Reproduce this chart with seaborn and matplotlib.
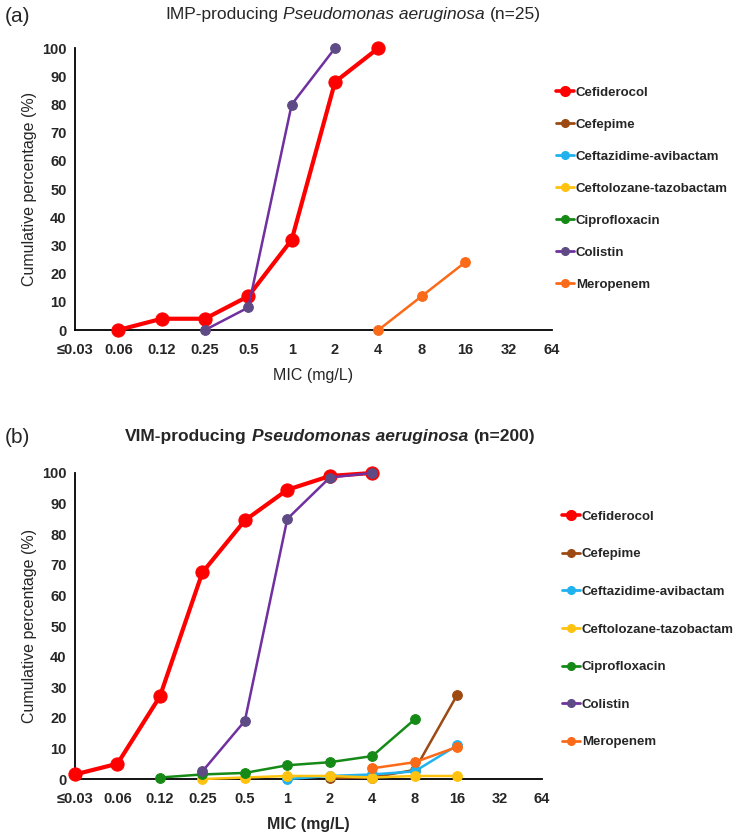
import numpy as np
import pandas as pd
import matplotlib.pyplot as plt
import seaborn as sns
from matplotlib.lines import Line2D

sns.set_theme(style="white")
plt.rcParams["font.family"] = ["Liberation Sans", "DejaVu Sans"]

na = np.nan

# MIC categories (x axis)
mic_labels = ["≤0.03", "0.06", "0.12", "0.25", "0.5", "1", "2", "4", "8", "16", "32", "64"]
drugs = ["Cefiderocol", "Cefepime", "Ceftazidime-avibactam", "Ceftolozane-tazobactam",
         "Ciprofloxacin", "Colistin", "Meropenem"]

# (a) IMP-producing, n=25 -- cumulative %
imp_cefiderocol = [na, 0, 4, 4, 12, 32, 88, 100, na, na, na, na]
imp_colistin = [na, na, na, 0, 8, 80, 100, na, na, na, na, na]
imp_meropenem = [na, na, na, na, na, na, na, 0, 12, 24, na, na]

# (b) VIM-producing, n=200 -- cumulative %
vim_cefiderocol = [1.5, 5, 27, 67.5, 84.5, 94.5, 99, 100, na, na, na, na]
vim_cefepime = [na, na, na, na, na, na, 0.3, 0.5, 3, 27.5, na, na]
vim_ceftazidime = [na, na, na, na, na, 0, 1, 1.5, 2.5, 11, na, na]
vim_ceftolozane = [na, na, na, 0, 0.5, 1, 1, 0.5, 1, 1, na, na]
vim_ciprofloxacin = [na, na, 0.5, 1.5, 2, 4.5, 5.5, 7.5, 19.5, na, na, na]
vim_colistin = [na, na, na, 2.5, 19, 85, 98.5, 100, na, na, na, na]
vim_meropenem = [na, na, na, na, na, na, na, 3.5, 5.5, 10.5, na, na]

line_colors = {
    "Cefiderocol": "#FF0000",
    "Cefepime": "#9C4A12",
    "Ceftazidime-avibactam": "#1FB2EE",
    "Ceftolozane-tazobactam": "#FFC20E",
    "Ciprofloxacin": "#168A16",
    "Colistin": "#7030A0",
    "Meropenem": "#FA6A18",
}
marker_colors = dict(line_colors, Colistin="#5E4A85")


def long_df(series):
    rows = []
    for drug, vals in series.items():
        for i, v in enumerate(vals):
            if not np.isnan(v):
                rows.append({"Drug": drug, "pos": i, "pct": v})
    return pd.DataFrame(rows)


def draw_panel(ax, df):
    for drug in drugs:
        d = df[df["Drug"] == drug]
        if d.empty:
            continue
        big = drug == "Cefiderocol"
        sns.lineplot(data=d, x="pos", y="pct", ax=ax, estimator=None, sort=False,
                     color=line_colors[drug], lw=3.0 if big else 1.8,
                     marker="o", ms=9.5 if big else 7,
                     mfc=marker_colors[drug], mec=marker_colors[drug],
                     clip_on=False, zorder=3)
    ax.set_xlim(0, 11)
    ax.set_ylim(0, 100)
    ax.set_xticks(range(len(mic_labels)))
    ax.set_xticklabels(mic_labels)
    ax.set_yticks(range(0, 101, 10))
    ax.tick_params(axis="both", direction="in", length=4, width=1.2, color="black",
                   labelsize=10.5, pad=6)
    for lab in ax.get_xticklabels() + ax.get_yticklabels():
        lab.set_fontweight("bold")
    ax.tick_params(axis="x", pad=9)
    sns.despine(ax=ax)
    for s in ["left", "bottom"]:
        ax.spines[s].set_color("black")
        ax.spines[s].set_linewidth(1.3)
    ax.set_ylabel("Cumulative percentage (%)", fontsize=11.5)
    ax.grid(False)


def legend_handles():
    hs = []
    for drug in drugs:
        big = drug == "Cefiderocol"
        hs.append(Line2D([], [], color=line_colors[drug], lw=2.6 if big else 2.0,
                         marker="o", ms=7 if big else 5.5,
                         mfc=marker_colors[drug], mec=marker_colors[drug]))
    return hs


def draw_title(fig, cx, y, parts, weight, size):
    fig.canvas.draw()
    r = fig.canvas.get_renderer()
    texts, widths = [], []
    for s, style in parts:
        t = fig.text(0, y, s, fontsize=size, fontweight=weight, style=style,
                     va="center", ha="left")
        texts.append(t)
        widths.append(t.get_window_extent(r).width / fig.bbox.width)
    gap = size * 0.28 / 72 * fig.dpi / fig.bbox.width
    total = sum(widths) + gap * (len(parts) - 1)
    x = cx - total / 2
    for t, w in zip(texts, widths):
        t.set_x(x)
        x += w + gap


fig = plt.figure(figsize=(7.38, 8.34), dpi=100)
ax_a = fig.add_axes([0.1016, 0.6043, 0.646, 0.338])
ax_b = fig.add_axes([0.1016, 0.0659, 0.633, 0.367])

df_a = long_df({"Cefiderocol": imp_cefiderocol, "Colistin": imp_colistin,
                "Meropenem": imp_meropenem})
df_b = long_df({"Cefiderocol": vim_cefiderocol, "Cefepime": vim_cefepime,
                "Ceftazidime-avibactam": vim_ceftazidime,
                "Ceftolozane-tazobactam": vim_ceftolozane,
                "Ciprofloxacin": vim_ciprofloxacin, "Colistin": vim_colistin,
                "Meropenem": vim_meropenem})

draw_panel(ax_a, df_a)
draw_panel(ax_b, df_b)
ax_a.set_xlabel("MIC (mg/L)", fontsize=11.5, labelpad=8)
ax_b.set_xlabel("MIC (mg/L)", fontsize=11.5, fontweight="bold", labelpad=8)

leg_a = fig.legend(legend_handles(), drugs, loc="center left",
                   bbox_to_anchor=(556 / 738, 1 - 188.5 / 834), frameon=False,
                   borderpad=0, borderaxespad=0, handlelength=1.35, handletextpad=0.15,
                   labelspacing=1.5, prop={"weight": "bold", "size": 9.5})
leg_b = fig.legend(legend_handles(), drugs, loc="center left",
                   bbox_to_anchor=(562 / 738, 1 - 629.5 / 834), frameon=False,
                   borderpad=0, borderaxespad=0, handlelength=1.35, handletextpad=0.15,
                   labelspacing=1.92, prop={"weight": "bold", "size": 9.5})

fig.text(0.006, 1 - 16 / 834, "(a)", fontsize=15, va="center")
fig.text(0.006, 1 - 438 / 834, "(b)", fontsize=15, va="center")

draw_title(fig, 353 / 738, 1 - 15 / 834,
           [("IMP-producing", "normal"), ("Pseudomonas aeruginosa", "italic"),
            ("(n=25)", "normal")], "normal", 12.5)
draw_title(fig, 330 / 738, 1 - 437 / 834,
           [("VIM-producing", "normal"), ("Pseudomonas aeruginosa", "italic"),
            ("(n=200)", "normal")], "bold", 12.5)

fig.savefig("out.png", dpi=100)
